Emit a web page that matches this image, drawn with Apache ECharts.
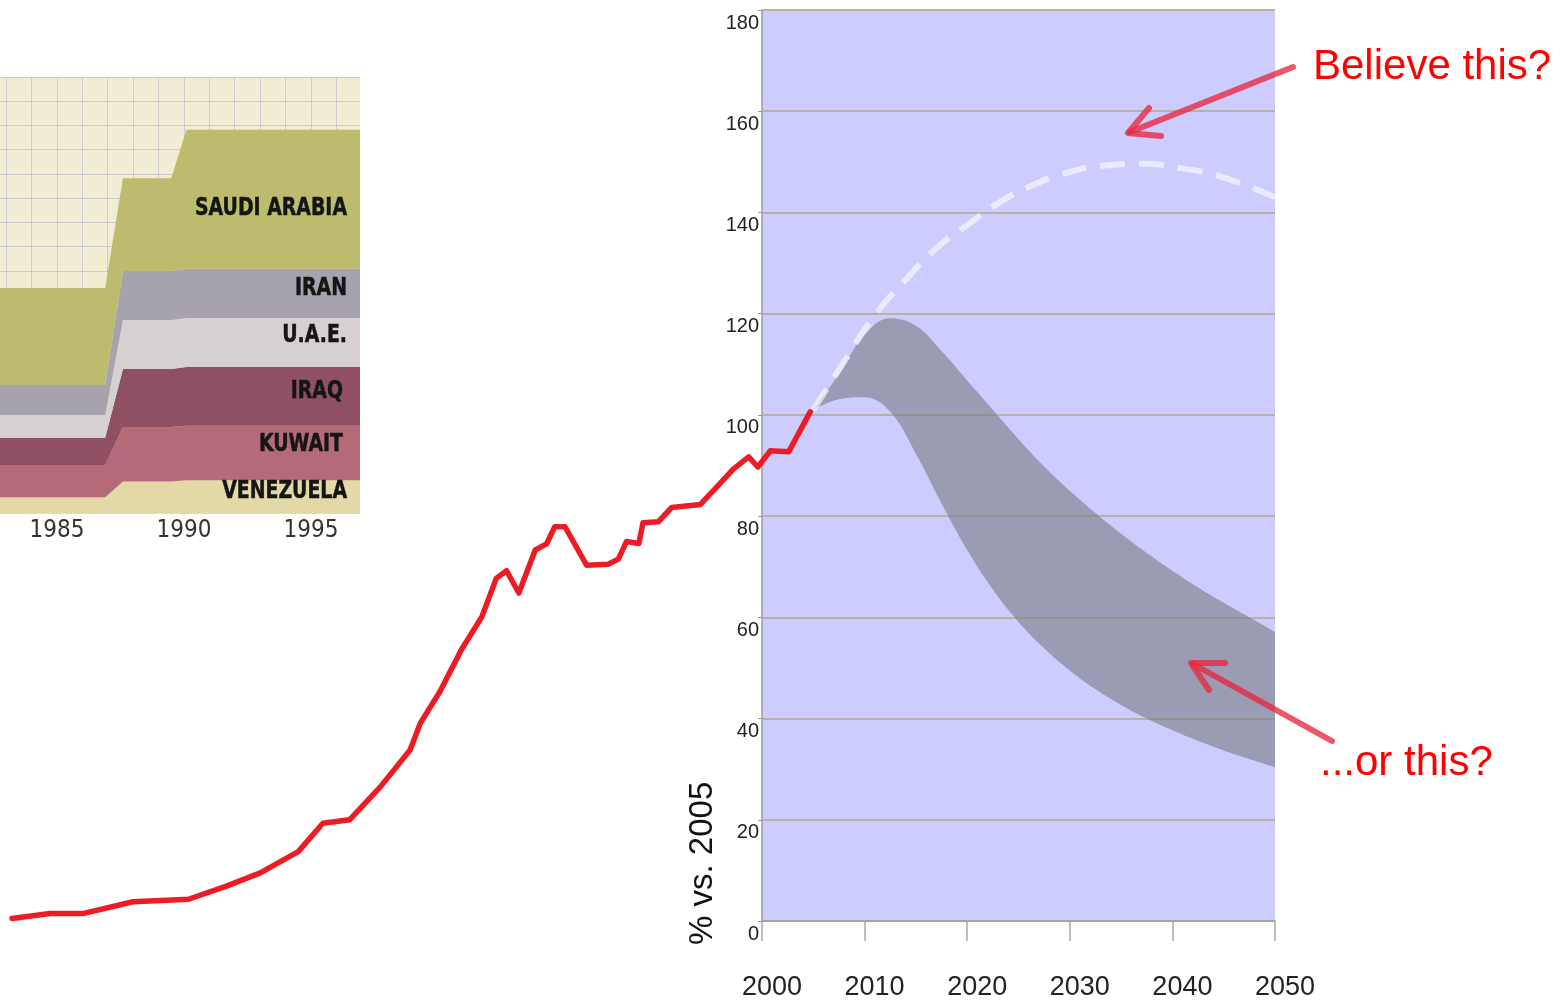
<!DOCTYPE html>
<html lang="en">
<head>
    <meta charset="UTF-8">
    <title>Oil production: believe this?</title>
    <script src="https://cdn.jsdelivr.net/npm/echarts@6/dist/echarts.min.js"></script>
</head>
<style>
    body{
        margin: 0;
        padding: 0;
        background: #fff;
    }
</style>
<body>
<div id="main" style="width: 1564px;height:1002px;"></div>
<script>
    // historical production (red line), % of 2005
    var histYears = [1926.9, 1930.6, 1933.9, 1938.7, 1944.1, 1947.8, 1951.1, 1954.8, 1957.2, 1959.8,
        1962.8, 1965.7, 1966.7, 1968.6, 1970.7, 1972.7, 1974.1, 1975.1, 1976.3, 1977.9, 1979.0, 1979.8,
        1980.8, 1982.9, 1985.0, 1986.0, 1986.8, 1988.0, 1988.4, 1989.9, 1991.2, 1994.0, 1995.6,
        1997.2, 1998.7, 1999.6, 2000.8, 2002.6, 2004.7];
    var histValues = [0.5, 1.5, 1.5, 3.8, 4.3, 6.9, 9.5, 13.7, 19.3, 20.0,
        26.5, 33.8, 39.1, 45.3, 53.6, 60.1, 67.7, 69.2, 64.8, 73.3, 74.5, 77.9,
        77.9, 70.3, 70.5, 71.5, 75.0, 74.6, 78.7, 78.9, 81.7, 82.3, 85.8,
        89.3, 91.7, 89.7, 92.9, 92.7, 100.6];

    // grey forecast band
    var bandYears = [2005, 2007.5, 2010, 2012.5, 2015, 2017.5, 2020, 2022.5, 2025, 2027.5,
        2030, 2032.5, 2035, 2037.5, 2040, 2042.5, 2045, 2047.5, 2050];
    var bandUpper = [101, 108.1, 115.8, 119.1, 117.6, 112.6, 106.8, 101, 95.2, 89.8,
        85.0, 80.6, 76.5, 72.7, 69.2, 65.9, 62.9, 60.0, 57.1];
    var bandLower = [101, 103.1, 103.5, 100.6, 92.3, 82.5, 73.3, 65.5, 59.1, 53.9,
        49.5, 45.8, 42.7, 40.0, 37.7, 35.6, 33.7, 32.0, 30.4];

    // optimistic forecast (white dashed)
    var hopeYears = [2005, 2008, 2011, 2014, 2017, 2020, 2023, 2026, 2029, 2033, 2037, 2041, 2045, 2050];
    var hopeValues = [101, 110.5, 119.7, 126.7, 132.9, 137.5, 141.8, 145, 147.4, 149.2, 149.6, 148.7, 146.9, 143];

    // inset: OPEC proven reserves, billion barrels
    var insetYears = [1982.76, 1986.9, 1987.6, 1989.5, 1990.1, 1996.93];
    var venezuela = [29, 29, 58, 58, 60, 60];
    var kuwait = [59, 59, 100, 100, 100, 100];
    var iraq = [50, 50, 106, 106, 108, 108];
    var uae = [42, 42, 90, 90, 90, 90];
    var iran = [55, 55, 90, 90, 90, 90];
    var saudi = [178, 178, 170, 170, 255, 255];
    var insetTicks = [1985, 1990, 1995];

    function pairs(xs, ys) {
        var out = [];
        for (var i = 0; i < xs.length; i++) {
            out.push([xs[i], ys[i]]);
        }
        return out;
    }
    // value first, year second: stacking works on the first numeric column
    function stackPairs(xs, ys) {
        var out = [];
        for (var i = 0; i < xs.length; i++) {
            out.push([ys[i], xs[i]]);
        }
        return out;
    }

    var bandSize = [];
    for (var i = 0; i < bandYears.length; i++) {
        bandSize.push(+(bandUpper[i] - bandLower[i]).toFixed(2));
    }

    var insetYearLines = [];
    for (var y = 1983; y <= 1996; y++) insetYearLines.push(y);

    var layers = [
        {name: 'VENEZUELA', data: venezuela, color: '#e3d9a6'},
        {name: 'KUWAIT', data: kuwait, color: '#b46a78'},
        {name: 'IRAQ', data: iraq, color: '#8f5064'},
        {name: 'U.A.E.', data: uae, color: '#d6d0d0'},
        {name: 'IRAN', data: iran, color: '#a7a3ae'},
        {name: 'SAUDI ARABIA', data: saudi, color: '#bdbb6e'}
    ];

    var insetSeries = layers.map(function (l) {
        return {
            name: l.name,
            type: 'line',
            xAxisIndex: 2,
            yAxisIndex: 2,
            stack: 'opec',
            symbol: 'none',
            encode: {x: 1, y: 0},
            lineStyle: {width: 0},
            areaStyle: {color: l.color, opacity: 1},
            data: stackPairs(insetYears, l.data)
        };
    });

    var narrow = "'Liberation Sans Narrow', 'DejaVu Sans Condensed', sans-serif";
    var arial = "'Liberation Sans', Arial, sans-serif";

    function label(text, x, y) {
        return {
            type: 'text', x: x, y: y, scaleX: 0.84, z: 100,
            style: {text: text, fill: '#151515', font: 'bold 25px ' + narrow,
                textAlign: 'right', textVerticalAlign: 'middle', stroke: '#151515', lineWidth: 0.5}
        };
    }
    function plain(v) {
        return String(v);
    }

    var arrowColor = 'rgba(232,40,62,0.78)';

    var chart = echarts.init(document.getElementById('main'));
    var option = {
        animation: false,
        grid: [
            {left: 762, right: 289, top: 10, bottom: 81, show: true, backgroundColor: '#ccccff', borderWidth: 0},
            {left: 0, right: 289, top: 10, bottom: 81},
            {left: 0, top: 77, width: 360, height: 436, show: true, backgroundColor: '#f1edd3', borderWidth: 0}
        ],
        xAxis: [
            {
                gridIndex: 0, type: 'value', min: 2000, max: 2050, interval: 10,
                axisLine: {lineStyle: {color: '#a0a0a0', width: 1.5}},
                axisTick: {length: 20, lineStyle: {color: '#a8a8a8', width: 1.5}},
                splitLine: {show: false},
                axisLabel: {
                    color: '#222', fontSize: 27, fontFamily: arial, margin: 53,
                    padding: [0, 0, 0, 20], formatter: plain
                }
            },
            {gridIndex: 1, type: 'value', min: 1925.731, max: 2050, show: false},
            {
                gridIndex: 2, type: 'value', min: 1982.76, max: 1996.93,
                axisLine: {show: false},
                axisTick: {show: false, customValues: insetYearLines},
                splitLine: {show: true, lineStyle: {color: 'rgba(140,140,215,0.35)', width: 1}},
                axisLabel: {customValues: insetTicks, color: '#333', fontSize: 24, fontFamily: narrow,
                    margin: 6, formatter: plain}
            }
        ],
        yAxis: [
            {
                gridIndex: 0, type: 'value', min: 0, max: 180, interval: 20,
                axisLine: {show: true, lineStyle: {color: '#9a9a9a', width: 1.5}},
                axisTick: {show: true, length: 4, lineStyle: {color: '#9a9a9a'}},
                splitLine: {lineStyle: {color: '#b6b2a6', width: 2}},
                axisLabel: {
                    color: '#222', fontSize: 20, fontFamily: arial, margin: 3,
                    verticalAlign: 'top', padding: [3, 0, 0, 0]
                }
            },
            {gridIndex: 1, type: 'value', min: 0, max: 180, show: false},
            {
                gridIndex: 2, type: 'value', min: 0, max: 800, interval: 800 / 18,
                axisLine: {show: false}, axisTick: {show: false}, axisLabel: {show: false},
                splitLine: {show: true, lineStyle: {color: 'rgba(140,140,215,0.35)', width: 1}}
            }
        ],
        series: [
            {
                name: 'lower',
                type: 'line',
                stack: 'band',
                smooth: 0.4,
                symbol: 'none',
                encode: {x: 1, y: 0},
                lineStyle: {width: 0, opacity: 0},
                data: stackPairs(bandYears, bandLower)
            },
            {
                name: 'band',
                type: 'line',
                stack: 'band',
                smooth: 0.4,
                symbol: 'none',
                encode: {x: 1, y: 0},
                lineStyle: {width: 0, opacity: 0},
                areaStyle: {color: 'rgba(120,123,130,0.6)', opacity: 1},
                data: stackPairs(bandYears, bandSize)
            },
            {
                name: 'hope',
                type: 'line',
                smooth: 0.5,
                symbol: 'none',
                z: 4,
                lineStyle: {color: 'rgba(255,255,255,0.6)', width: 6, type: [25, 14]},
                data: pairs(hopeYears, hopeValues)
            },
            {
                name: 'history',
                type: 'line',
                xAxisIndex: 1,
                yAxisIndex: 1,
                symbol: 'none',
                z: 5,
                lineStyle: {color: '#ed1c24', width: 5.5, cap: 'round', join: 'round'},
                data: pairs(histYears, histValues)
            }
        ].concat(insetSeries),
        graphic: [
            {
                type: 'text', x: 703, y: 945, rotation: Math.PI / 2,
                style: {text: '% vs. 2005', fill: '#111', font: '33px ' + arial,
                    textAlign: 'left', textVerticalAlign: 'middle'}
            },
            {
                type: 'text', x: 1313, y: 67,
                style: {text: 'Believe this?', fill: '#ff0000', font: '42px ' + arial,
                    textAlign: 'left', textVerticalAlign: 'middle'}
            },
            {
                type: 'text', x: 1320, y: 763,
                style: {text: '...or this?', fill: '#ff0000', font: '42px ' + arial,
                    textAlign: 'left', textVerticalAlign: 'middle'}
            },
            {
                type: 'polyline', shape: {points: [[1293, 67], [1130, 132]]},
                style: {stroke: arrowColor, lineWidth: 6, lineCap: 'round', fill: null}, z: 100
            },
            {
                type: 'polyline', shape: {points: [[1149, 108], [1128, 133], [1161, 136]]},
                style: {stroke: arrowColor, lineWidth: 6, lineCap: 'round', lineJoin: 'round', fill: null}, z: 100
            },
            {
                type: 'polyline', shape: {points: [[1332, 741], [1193, 664]]},
                style: {stroke: arrowColor, lineWidth: 6, lineCap: 'round', fill: null}, z: 100
            },
            {
                type: 'polyline', shape: {points: [[1225, 663], [1191, 663], [1209, 690]]},
                style: {stroke: arrowColor, lineWidth: 6, lineCap: 'round', lineJoin: 'round', fill: null}, z: 100
            },
            label('SAUDI ARABIA', 347, 208),
            label('IRAN', 347, 288),
            label('U.A.E.', 347, 335),
            label('IRAQ', 343, 391),
            label('KUWAIT', 343, 444),
            label('VENEZUELA', 347, 491)
        ]
    };
    chart.setOption(option);
</script>
</body>
</html>
